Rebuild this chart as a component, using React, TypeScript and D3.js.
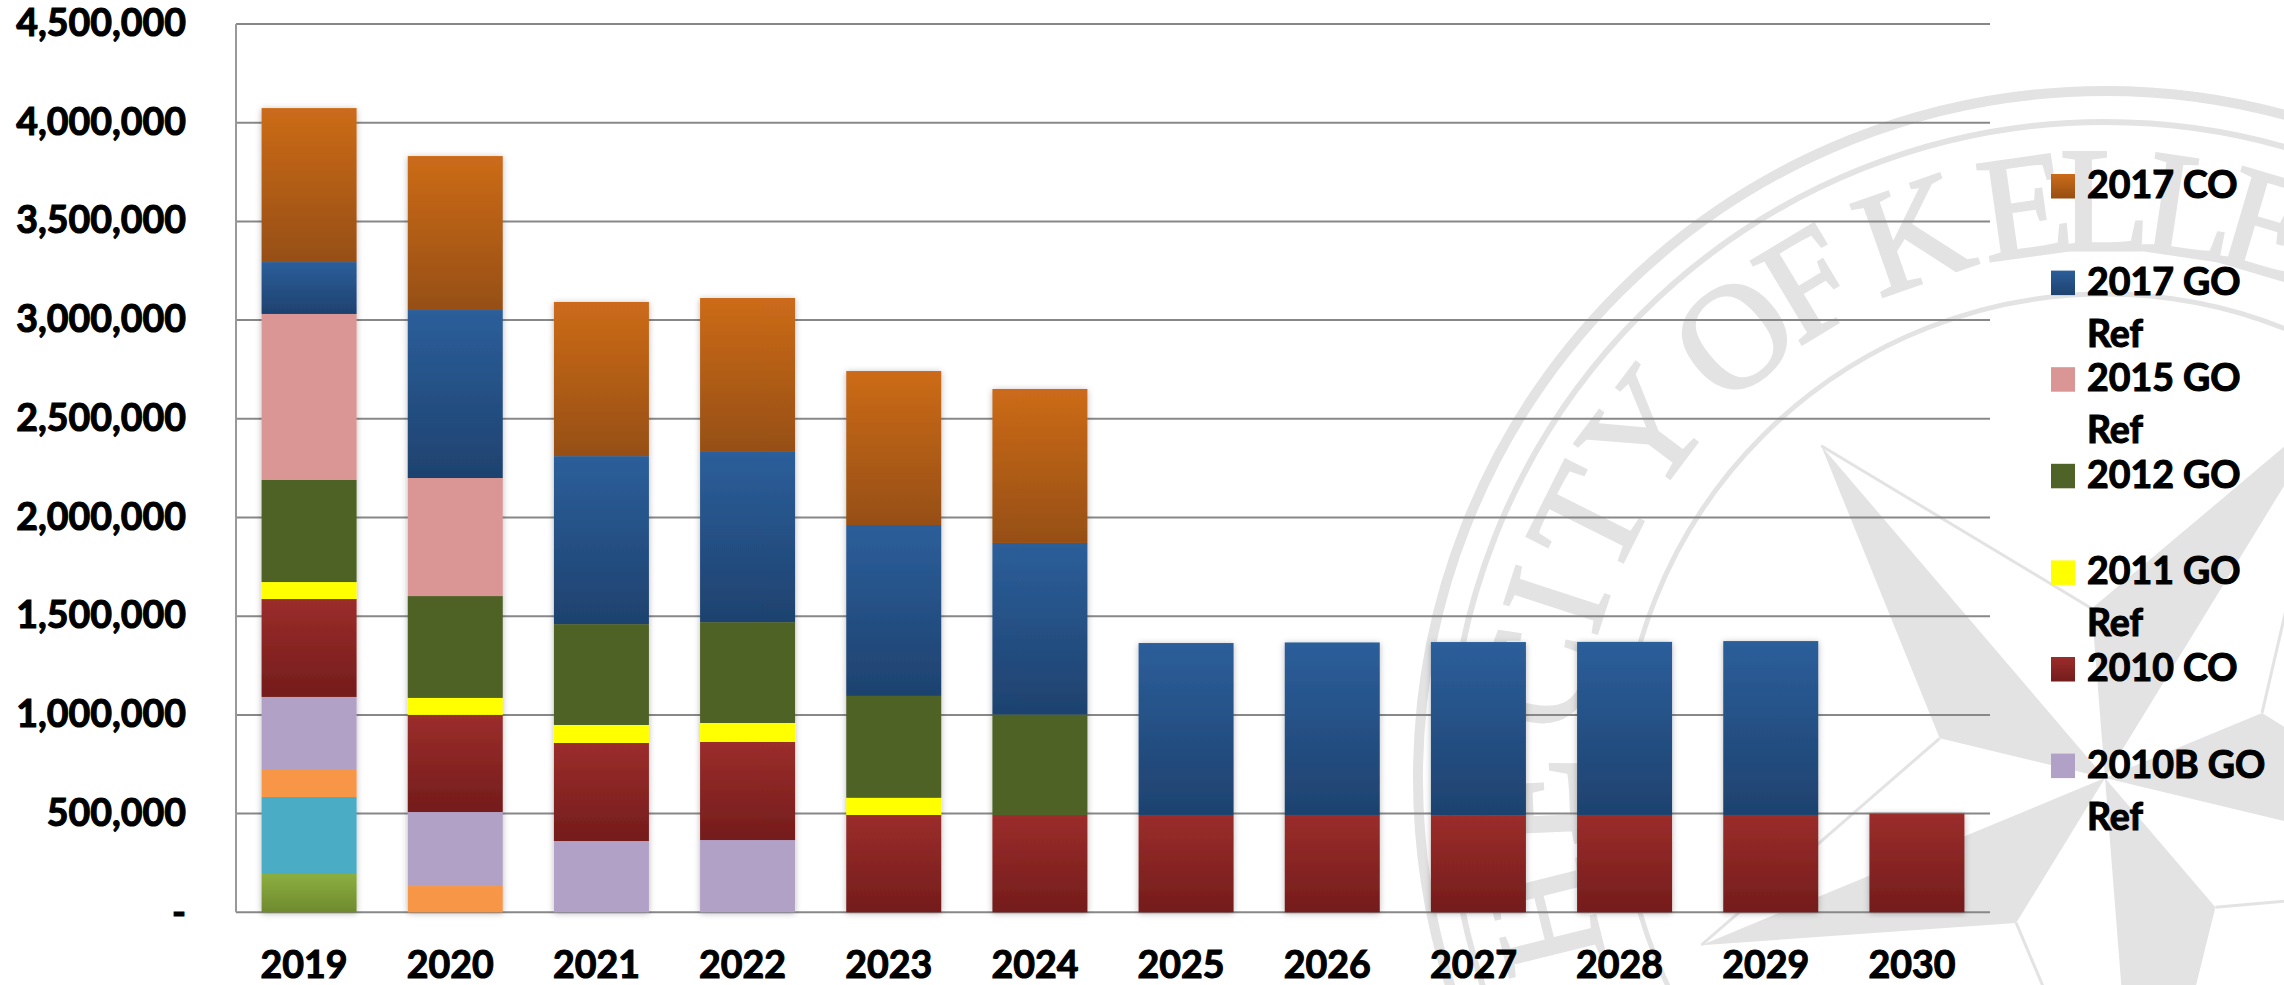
import React from "react";
import * as d3 from "d3";

const years = ["2019","2020","2021","2022","2023","2024","2025","2026","2027","2028","2029","2030"];
const co2017     = [780,780,781,780,780,780,0,0,0,0,0,0];
const go2017Ref  = [263,851,851,862,866,869,871,874,880,877,881,0];
const go2015Ref  = [841,598,0,0,0,0,0,0,0,0,0,0];
const go2012     = [517,516,511,511,516,509,0,0,0,0,0,0];
const go2011Ref  = [86,86,91,96,87,0,0,0,0,0,0,0];
const co2010     = [496,492,497,497,493,493,493,493,489,493,493,500];
const go2010BRef = [370,375,361,366,0,0,0,0,0,0,0,0];
const olderOrange = [137,133,0,0,0,0,0,0,0,0,0,0];
const olderTeal   = [390,0,0,0,0,0,0,0,0,0,0,0];
const olderGreen  = [194,0,0,0,0,0,0,0,0,0,0,0];
const yTicks = [0,500000,1000000,1500000,2000000,2500000,3000000,3500000,4000000,4500000];

const seriesDefs = [
  { key: "olderGreen", values: olderGreen, fill: ["#8cae40","#6e8a2e"] },
  { key: "olderTeal", values: olderTeal, fill: "#4bacc6" },
  { key: "olderOrange", values: olderOrange, fill: "#f79646" },
  { key: "go2010BRef", values: go2010BRef, fill: "#b2a1c7" },
  { key: "co2010", values: co2010, fill: ["#9b2d2b","#741c1c"] },
  { key: "go2011Ref", values: go2011Ref, fill: "#ffff00" },
  { key: "go2012", values: go2012, fill: "#4f6228" },
  { key: "go2015Ref", values: go2015Ref, fill: "#d99694" },
  { key: "go2017Ref", values: go2017Ref, fill: ["#2c5e9a","#1e426f"] },
  { key: "co2017", values: co2017, fill: ["#cc6b1a","#964f12"] },
];
const legendItems = [
  { key: "co2017", lines: ["2017 CO"] },
  { key: "go2017Ref", lines: ["2017 GO","Ref"] },
  { key: "go2015Ref", lines: ["2015 GO","Ref"] },
  { key: "go2012", lines: ["2012 GO"] },
  { key: "go2011Ref", lines: ["2011 GO","Ref"] },
  { key: "co2010", lines: ["2010 CO"] },
  { key: "go2010BRef", lines: ["2010B GO","Ref"] },
];
const sealLetters: [string, number][] = [
  ["H",-104],["E",-92.5],["C",-80],["I",-72],["T",-63.4],["Y",-53],
  ["O",-40],["F",-31],["K",-19.4],["E",-8],["L",0],["L",8.5],["E",16.5],
];

const FONT = "Lato, 'Open Sans', sans-serif";
const SEAL = "#e3e3e3";
const cx = 2105, cy = 778;

function Seal() {
  const polar = (deg: number, r: number): [number, number] => {
    const a = (deg * Math.PI) / 180;
    return [cx + r * Math.cos(a), cy - r * Math.sin(a)];
  };
  const tips = d3.range(5).map((i) => 130.5 + i * 72);
  const line = d3.line();
  return (
    <g>
      <circle cx={cx} cy={cy} r={687} fill="none" stroke={SEAL} strokeWidth={10} />
      <circle cx={cx} cy={cy} r={656} fill="none" stroke={SEAL} strokeWidth={6} />
      <circle cx={cx} cy={cy} r={484} fill="none" stroke={SEAL} strokeWidth={5} />
      {sealLetters.map(([c, deg], i) => {
        const a = (deg * Math.PI) / 180;
        const x = cx + 528 * Math.sin(a), y = cy - 528 * Math.cos(a);
        return (
          <text key={i} transform={`translate(${x},${y}) rotate(${deg})`} textAnchor="middle"
            fontFamily="'Liberation Serif', serif" fontWeight={400} fontSize={148} fill={SEAL}
            stroke={SEAL} strokeWidth={3}>{c}</text>
        );
      })}
      {tips.map((t, i) => (
        <g key={i}>
          <path d={line([[cx, cy], polar(t, 437), polar(t + 36, 170)])! + "Z"} fill={SEAL} />
          <path d={line([polar(t - 36, 170), polar(t, 437)])!} fill="none" stroke={SEAL} strokeWidth={3} />
        </g>
      ))}
    </g>
  );
}

export default function App() {
  const x = d3.scaleBand().domain(years).range([236, 1990]).paddingInner(0.35).paddingOuter(0.175);
  const y = d3.scaleLinear().domain([0, 4500000]).range([912.3, 24]);
  const table = years.map((yr, i) => {
    const row: any = { year: yr };
    seriesDefs.forEach((s) => (row[s.key] = s.values[i] * 1000));
    return row;
  });
  const stacked = d3.stack().keys(seriesDefs.map((s) => s.key))(table);
  const fmt = d3.format(",");
  const paint = (k: string) => {
    const s = seriesDefs.find((d) => d.key === k)!;
    return Array.isArray(s.fill) ? `url(#g-${k})` : (s.fill as string);
  };
  return (
    <svg width={2284} height={985} style={{ position: "absolute", left: 0, top: 0, background: "#fff" }}>
      <defs>
        {seriesDefs.filter((s) => Array.isArray(s.fill)).map((s) => (
          <linearGradient key={s.key} id={`g-${s.key}`} x1="0" y1="0" x2="0" y2="1">
            <stop offset="0" stopColor={s.fill[0]} />
            <stop offset="1" stopColor={s.fill[1]} />
          </linearGradient>
        ))}
        <filter id="sh" x="-15%" y="-5%" width="130%" height="110%">
          <feDropShadow dx="0" dy="1" stdDeviation="3" floodColor="#000" floodOpacity="0.28" />
        </filter>
      </defs>
      <Seal />
      {yTicks.map((t) => (
        <line key={t} x1={236} x2={1990} y1={y(t)} y2={y(t)} stroke="#888" strokeWidth={2} />
      ))}
      <line x1={236} x2={236} y1={y(4500000)} y2={y(0)} stroke="#999" strokeWidth={2} />
      {years.map((yr, i) => (
        <g key={yr} filter="url(#sh)">
          {stacked.map((layer) => {
            const d = layer[i];
            if (d[1] - d[0] <= 0) return null;
            return (
              <rect key={layer.key} x={x(yr)} width={x.bandwidth()} y={y(d[1])} height={y(d[0]) - y(d[1])} fill={paint(layer.key)} />
            );
          })}
        </g>
      ))}
      <g fontFamily={FONT} fontWeight={700} fontSize={37.5} fill="#000" stroke="#000" strokeWidth={1.1}>
        {yTicks.map((t) => (
          <text key={t} x={186} y={t === 0 ? y(t) + 14 : y(t) + 12} textAnchor="end">{t === 0 ? "-" : fmt(t)}</text>
        ))}
        {years.map((yr) => (
          <text key={yr} x={x(yr)! + x.bandwidth() / 2 - 5} y={978} textAnchor="middle">{yr}</text>
        ))}
        {legendItems.map((it, i) => {
          const top = 174 + i * 96.6;
          return (
            <g key={it.key}>
              <rect x={2051} y={top} width={24} height={24.5} fill={paint(it.key)} stroke="none" />
              {it.lines.map((l, j) => (
                <text key={j} x={2087} y={top + 24 + j * 52}>{l}</text>
              ))}
            </g>
          );
        })}
      </g>
    </svg>
  );
}
